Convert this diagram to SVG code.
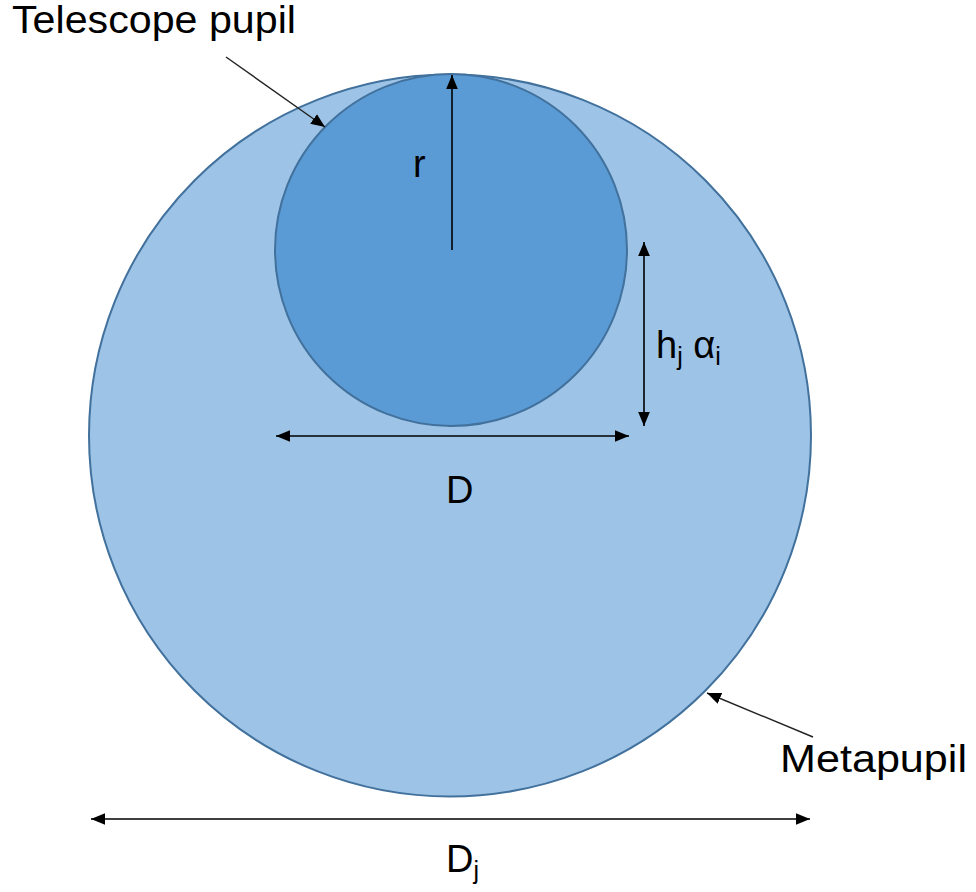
<svg xmlns="http://www.w3.org/2000/svg" width="976" height="892" viewBox="0 0 976 892">
  <style>
    .lbl { font-family: "Liberation Sans", Arial, sans-serif; font-size: 38px; fill: #000; }
    .sub { font-size: 25px; }
    .conn { stroke: #000; stroke-width: 1.6; fill: none; }
    .thin { stroke: #222; stroke-width: 1.4; fill: none; }
  </style>
  <defs>
    <marker id="ah" viewBox="0 0 12 10" refX="12" refY="5" markerWidth="14" markerHeight="12" markerUnits="userSpaceOnUse" orient="auto-start-reverse">
      <path d="M0,0 L12,5 L0,10 Z" fill="#000"/>
    </marker>
  </defs>
  <rect width="976" height="892" fill="#fff"/>
  <g id="metapupil">
    <circle cx="450" cy="435.5" r="361" fill="#9DC3E6" stroke="#41719C" stroke-width="2"/>
  </g>
  <g id="telescope-pupil">
    <circle cx="451" cy="250" r="176" fill="#5B9BD5" stroke="#41719C" stroke-width="2"/>
  </g>
  <g id="connectors">
    <line class="conn" x1="452" y1="250" x2="452" y2="75" marker-end="url(#ah)"/>
    <line class="conn" x1="644" y1="242" x2="644" y2="426" marker-start="url(#ah)" marker-end="url(#ah)"/>
    <line class="conn" x1="276" y1="436" x2="629" y2="436" marker-start="url(#ah)" marker-end="url(#ah)"/>
    <line class="conn" x1="91" y1="819" x2="810" y2="819" marker-start="url(#ah)" marker-end="url(#ah)"/>
    <line class="thin" x1="226" y1="57" x2="325" y2="127" marker-end="url(#ah)"/>
    <line class="thin" x1="813" y1="737" x2="707" y2="693" marker-end="url(#ah)"/>
  </g>
  <g id="labels">
    <text class="lbl" x="12" y="33" textLength="284" lengthAdjust="spacingAndGlyphs">Telescope pupil</text>
    <text class="lbl" x="780" y="772" textLength="187" lengthAdjust="spacingAndGlyphs">Metapupil</text>
    <text class="lbl" x="413" y="177">r</text>
    <text class="lbl" x="446" y="503">D</text>
    <text class="lbl" x="446" y="872">D<tspan class="sub" dy="7">j</tspan></text>
    <text class="lbl" x="656" y="358">h<tspan class="sub" dy="7">j</tspan><tspan dy="-7"> α</tspan><tspan class="sub" dy="7">i</tspan></text>
  </g>
</svg>
